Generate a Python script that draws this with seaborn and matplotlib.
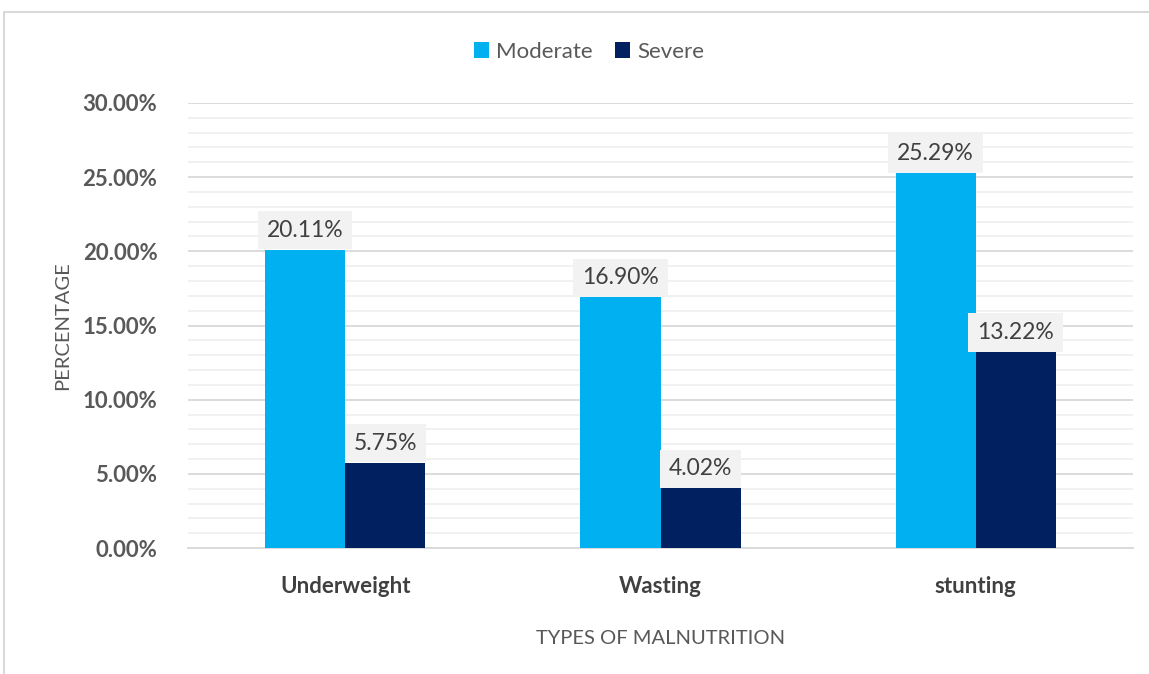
import matplotlib
matplotlib.use("Agg")
import matplotlib.pyplot as plt
import seaborn as sns
import pandas as pd
from matplotlib.ticker import MultipleLocator, FuncFormatter
from matplotlib.patches import Rectangle

categories = ["Underweight", "Wasting", "stunting"]
moderate = [20.11, 16.90, 25.29]
severe = [5.75, 4.02, 13.22]
series = ["Moderate", "Severe"]
colors = ["#00B0F0", "#002060"]

df = pd.DataFrame({
    "type": categories * 2,
    "severity": [series[0]] * 3 + [series[1]] * 3,
    "value": moderate + severe,
})

sns.set_theme(style="white")
plt.rcParams["font.family"] = ["Lato", "DejaVu Sans"]

fig = plt.figure(figsize=(11.49, 6.74), dpi=100)
ax = fig.add_axes([0.1636, 0.1869, 0.8225, 0.6603])

sns.barplot(data=df, x="type", y="value", hue="severity", palette=colors,
            width=0.508, saturation=1, linewidth=0, ax=ax, legend=True, zorder=3)

ax.set_xlim(-0.5, 2.5)
ax.set_ylim(0, 30)
ax.yaxis.set_major_locator(MultipleLocator(5))
ax.yaxis.set_minor_locator(MultipleLocator(1))
ax.yaxis.set_major_formatter(FuncFormatter(lambda v, p: f"{v:.2f}%"))
ax.grid(axis="y", which="major", color="#D9D9D9", linewidth=1.3, zorder=0)
ax.grid(axis="y", which="minor", color="#F0F0F0", linewidth=1.3, zorder=0)
ax.set_axisbelow(True)
for s in ["top", "right", "left"]:
    ax.spines[s].set_visible(False)
ax.spines["bottom"].set_color("#D9D9D9")
ax.spines["bottom"].set_linewidth(1.3)
ax.tick_params(axis="both", which="both", length=0)
ax.tick_params(axis="y", pad=22)
ax.tick_params(axis="x", pad=20)
for lbl in ax.get_yticklabels():
    lbl.set_fontsize(16)
    lbl.set_fontweight("bold")
    lbl.set_color("#595959")
for lbl in ax.get_xticklabels():
    lbl.set_fontsize(16)
    lbl.set_fontweight("bold")
    lbl.set_color("#404040")

ax.set_ylabel("PERCENTAGE", fontsize=14.5, color="#595959", labelpad=8)
ax.set_xlabel("TYPES OF MALNUTRITION", fontsize=14.5, color="#595959", labelpad=24)

# value labels on grey boxes sitting on each bar
for cont in ax.containers:
    for bar in cont:
        h = bar.get_height()
        ax.annotate(f"{h:.2f}%", (bar.get_x() + bar.get_width() / 2, h),
                    xytext=(0, 6.5), textcoords="offset points",
                    ha="center", va="bottom", fontsize=16.5, color="#404040",
                    bbox=dict(boxstyle="square,pad=0.38", fc="#F2F2F2", ec="none"),
                    zorder=5)

handles, labels = ax.get_legend_handles_labels()
ax.legend(handles, labels, loc="center", bbox_to_anchor=(0.424, 1.115),
          ncol=2, frameon=False, fontsize=16, handlelength=0.7, handleheight=0.7,
          handletextpad=0.3, columnspacing=1.0, labelcolor="#595959")

# outer chart frame
fig.patches.append(Rectangle((4 / 1149, -0.1), 1.2, 1 - 12 / 674 + 0.1,
                             transform=fig.transFigure, fill=False,
                             ec="#D9D9D9", lw=1.5))

fig.savefig("out.png", dpi=100)
